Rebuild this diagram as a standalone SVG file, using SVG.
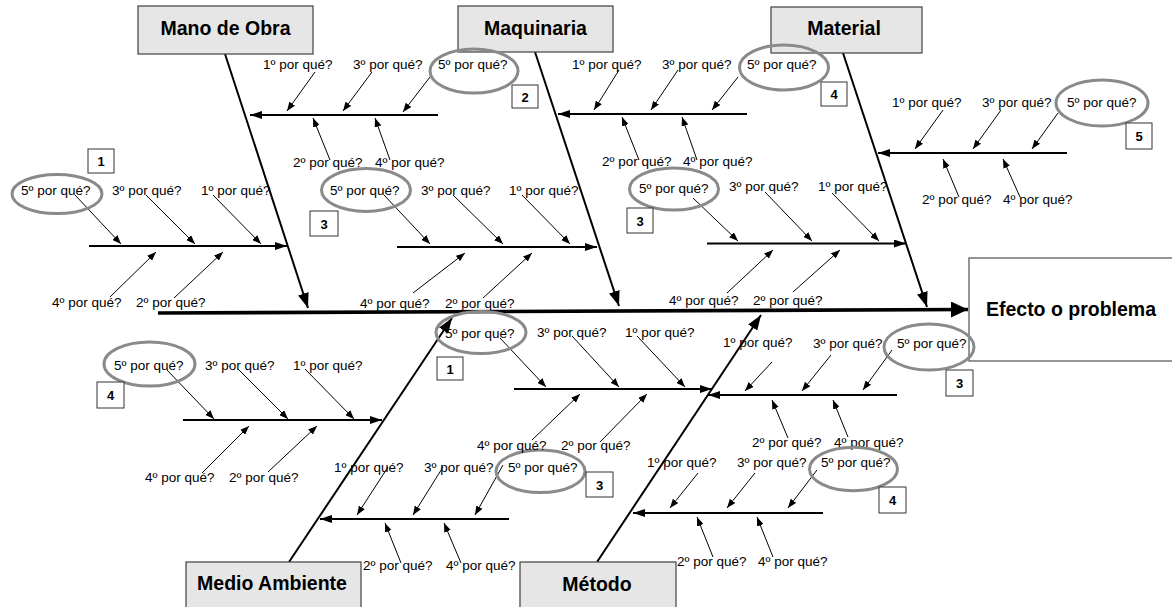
<svg xmlns="http://www.w3.org/2000/svg" width="1172" height="607" viewBox="0 0 1172 607">
  <defs>
    <style>
      .cat rect { fill: #e6e6e6; stroke: #404040; stroke-width: 1.2; }
      .cat text, .effect text { font-family: "Liberation Sans", Arial, sans-serif; font-weight: bold; font-size: 19.5px; fill: #000; text-anchor: middle; }
      .effect rect { fill: #fff; stroke: #505050; stroke-width: 1.2; }
      .why text { font-family: "Liberation Sans", Arial, sans-serif; font-size: 13.5px; fill: #000; }
      .why ellipse { fill: none; stroke: #8a8a8a; stroke-width: 3; }
      .why rect { fill: #fff; stroke: #333; stroke-width: 1; }
      .why text.num { font-weight: bold; font-size: 13px; text-anchor: middle; }
      .spine { stroke: #000; stroke-width: 3.6; fill: none; }
      .bone { stroke: #000; stroke-width: 2; fill: none; }
      .sub { stroke: #000; stroke-width: 2; fill: none; }
      .tick { stroke: #000; stroke-width: 1; fill: none; }
    </style>
    <marker id="ah-xl" markerUnits="userSpaceOnUse" markerWidth="18" markerHeight="16" refX="17" refY="8" orient="auto">
      <path d="M0,0 L17,8 L0,16 z" fill="#000"/>
    </marker>
    <marker id="ah-lg" markerUnits="userSpaceOnUse" markerWidth="15" markerHeight="11" refX="15" refY="5.5" orient="auto">
      <path d="M0,0 L15,5.5 L0,11 z" fill="#000"/>
    </marker>
    <marker id="ah-md" markerUnits="userSpaceOnUse" markerWidth="12" markerHeight="8" refX="12" refY="4" orient="auto">
      <path d="M0,0 L12,4 L0,8 z" fill="#000"/>
    </marker>
    <marker id="ah-sm" markerUnits="userSpaceOnUse" markerWidth="9" markerHeight="7" refX="9" refY="3.5" orient="auto">
      <path d="M0,0 L9,3.5 L0,7 z" fill="#000"/>
    </marker>
  </defs>

  <rect width="1172" height="607" fill="#fff"/>

  <!-- connectors: spine, main bones, sub-bones and the small why-arrows -->
  <g id="connectors">
    <line class="spine" x1="158" y1="313" x2="968" y2="309.5" marker-end="url(#ah-xl)"/>

    <line class="bone" x1="225" y1="54" x2="308" y2="308" marker-end="url(#ah-lg)"/>
    <line class="bone" x1="535" y1="52" x2="619" y2="306" marker-end="url(#ah-lg)"/>
    <line class="bone" x1="843" y1="53" x2="927" y2="307" marker-end="url(#ah-lg)"/>
    <line class="bone" x1="289" y1="562" x2="452" y2="318" marker-end="url(#ah-lg)"/>
    <line class="bone" x1="597" y1="562" x2="761" y2="315" marker-end="url(#ah-lg)"/>

    <line class="sub" x1="89" y1="246" x2="287" y2="246" marker-end="url(#ah-md)"/>
    <line class="sub" x1="438" y1="115" x2="250" y2="115" marker-end="url(#ah-md)"/>
    <line class="sub" x1="397" y1="247" x2="597" y2="247" marker-end="url(#ah-md)"/>
    <line class="sub" x1="747" y1="114" x2="558" y2="114" marker-end="url(#ah-md)"/>
    <line class="sub" x1="707" y1="243.5" x2="906" y2="243.5" marker-end="url(#ah-md)"/>
    <line class="sub" x1="1067" y1="153" x2="878" y2="153" marker-end="url(#ah-md)"/>
    <line class="sub" x1="183" y1="420" x2="382" y2="420" marker-end="url(#ah-md)"/>
    <line class="sub" x1="509" y1="519" x2="320" y2="519" marker-end="url(#ah-md)"/>
    <line class="sub" x1="514" y1="389" x2="712" y2="389" marker-end="url(#ah-md)"/>
    <line class="sub" x1="897" y1="395" x2="708" y2="395" marker-end="url(#ah-md)"/>
    <line class="sub" x1="823" y1="513" x2="633" y2="513" marker-end="url(#ah-md)"/>

    <g marker-end="url(#ah-sm)">
      <line class="tick" x1="75" y1="195" x2="121" y2="244"/>
      <line class="tick" x1="146" y1="195" x2="195" y2="244"/>
      <line class="tick" x1="213" y1="195" x2="261" y2="244"/>
      <line class="tick" x1="110" y1="297" x2="156" y2="252"/>
      <line class="tick" x1="174" y1="298" x2="223" y2="252"/>

      <line class="tick" x1="315" y1="72" x2="287" y2="111"/>
      <line class="tick" x1="372" y1="72" x2="343" y2="111"/>
      <line class="tick" x1="430" y1="77" x2="403" y2="112"/>
      <line class="tick" x1="330" y1="160" x2="313" y2="118"/>
      <line class="tick" x1="390" y1="160" x2="375" y2="118"/>

      <line class="tick" x1="384" y1="195" x2="430" y2="244"/>
      <line class="tick" x1="453" y1="195" x2="503" y2="244"/>
      <line class="tick" x1="522" y1="195" x2="570" y2="244"/>
      <line class="tick" x1="413" y1="293" x2="465" y2="253"/>
      <line class="tick" x1="483" y1="298" x2="532" y2="253"/>

      <line class="tick" x1="619" y1="70" x2="594" y2="110"/>
      <line class="tick" x1="678" y1="70" x2="651" y2="110"/>
      <line class="tick" x1="738" y1="77" x2="712" y2="110"/>
      <line class="tick" x1="639" y1="160" x2="622" y2="117"/>
      <line class="tick" x1="697" y1="160" x2="682" y2="117"/>

      <line class="tick" x1="693" y1="198" x2="738" y2="241"/>
      <line class="tick" x1="765" y1="192" x2="812" y2="241"/>
      <line class="tick" x1="832" y1="193" x2="879" y2="241"/>
      <line class="tick" x1="727" y1="293" x2="773" y2="250"/>
      <line class="tick" x1="793" y1="292" x2="840" y2="250"/>

      <line class="tick" x1="943" y1="110" x2="915" y2="149"/>
      <line class="tick" x1="1001" y1="110" x2="973" y2="149"/>
      <line class="tick" x1="1058" y1="113" x2="1032" y2="149"/>
      <line class="tick" x1="959" y1="197" x2="943" y2="159"/>
      <line class="tick" x1="1020" y1="197" x2="1003" y2="159"/>

      <line class="tick" x1="167" y1="370" x2="214" y2="419"/>
      <line class="tick" x1="238" y1="369" x2="288" y2="419"/>
      <line class="tick" x1="305" y1="369" x2="354" y2="419"/>
      <line class="tick" x1="202" y1="473" x2="249" y2="426"/>
      <line class="tick" x1="268" y1="472" x2="317" y2="426"/>

      <line class="tick" x1="388" y1="467" x2="357" y2="515"/>
      <line class="tick" x1="443" y1="467" x2="413" y2="515"/>
      <line class="tick" x1="503" y1="465" x2="475" y2="515"/>
      <line class="tick" x1="401" y1="563" x2="385" y2="523"/>
      <line class="tick" x1="461" y1="563" x2="444" y2="523"/>

      <line class="tick" x1="500" y1="338" x2="546" y2="387"/>
      <line class="tick" x1="572" y1="336" x2="619" y2="387"/>
      <line class="tick" x1="637" y1="336" x2="685" y2="387"/>
      <line class="tick" x1="532" y1="440" x2="580" y2="394"/>
      <line class="tick" x1="600" y1="442" x2="647" y2="394"/>

      <line class="tick" x1="772" y1="362" x2="745" y2="391"/>
      <line class="tick" x1="831" y1="355" x2="802" y2="391"/>
      <line class="tick" x1="892" y1="350" x2="863" y2="390"/>
      <line class="tick" x1="788" y1="438" x2="772" y2="400"/>
      <line class="tick" x1="848" y1="437" x2="833" y2="400"/>

      <line class="tick" x1="698" y1="473" x2="670" y2="508"/>
      <line class="tick" x1="755" y1="473" x2="727" y2="508"/>
      <line class="tick" x1="817" y1="470" x2="788" y2="508"/>
      <line class="tick" x1="713" y1="557" x2="697" y2="517"/>
      <line class="tick" x1="773" y1="557" x2="757" y2="517"/>
    </g>
  </g>

  <!-- effect -->
  <g id="efecto" class="effect">
    <rect x="969" y="258" width="215" height="103"/>
    <text x="1071" y="316">Efecto o problema</text>
  </g>

  <!-- categories -->
  <g id="mano-de-obra" class="cat">
    <rect x="138" y="6" width="175" height="48"/>
    <text x="225.5" y="35">Mano de Obra</text>
  </g>
  <g id="maquinaria" class="cat">
    <rect x="458" y="6" width="155" height="46"/>
    <text x="535.5" y="35">Maquinaria</text>
  </g>
  <g id="material" class="cat">
    <rect x="771" y="7" width="151" height="46"/>
    <text x="844" y="35">Material</text>
  </g>
  <g id="medio-ambiente" class="cat">
    <rect x="186" y="562" width="175" height="50"/>
    <text x="272" y="590">Medio Ambiente</text>
  </g>
  <g id="metodo" class="cat">
    <rect x="520" y="562" width="156" height="50"/>
    <text x="597" y="591">Método</text>
  </g>

  <!-- why chains -->
  <g id="why-mo-1" class="why">
    <ellipse cx="57" cy="194" rx="45" ry="19.5"/>
    <text x="21" y="195">5º por qué?</text>
    <text x="112" y="195">3º por qué?</text>
    <text x="201" y="195">1º por qué?</text>
    <text x="52" y="307">4º por qué?</text>
    <text x="136" y="307">2º por qué?</text>
    <rect x="88" y="149" width="26" height="24"/>
    <text class="num" x="101" y="166">1</text>
  </g>
  <g id="why-mo-2" class="why">
    <ellipse cx="474" cy="71" rx="44" ry="22"/>
    <text x="263" y="69">1º por qué?</text>
    <text x="353" y="69">3º por qué?</text>
    <text x="438" y="69">5º por qué?</text>
    <text x="293" y="167">2º por qué?</text>
    <text x="375" y="167">4º por qué?</text>
    <rect x="512" y="85" width="26" height="23"/>
    <text class="num" x="525" y="101.5">2</text>
  </g>
  <g id="why-mq-1" class="why">
    <ellipse cx="366" cy="190" rx="44.5" ry="21.5"/>
    <text x="330" y="195">5º por qué?</text>
    <text x="421" y="195">3º por qué?</text>
    <text x="509" y="195">1º por qué?</text>
    <text x="360" y="308">4º por qué?</text>
    <text x="445" y="308">2º por qué?</text>
    <rect x="310" y="211" width="28" height="25"/>
    <text class="num" x="324" y="228.5">3</text>
  </g>
  <g id="why-mq-2" class="why">
    <ellipse cx="784" cy="67.5" rx="44.5" ry="22.5"/>
    <text x="572" y="69">1º por qué?</text>
    <text x="662" y="69">3º por qué?</text>
    <text x="747" y="69">5º por qué?</text>
    <text x="602" y="166">2º por qué?</text>
    <text x="683" y="166">4º por qué?</text>
    <rect x="821" y="82" width="26" height="24"/>
    <text class="num" x="834" y="99">4</text>
  </g>
  <g id="why-mt-1" class="why">
    <ellipse cx="674" cy="189" rx="44.5" ry="21"/>
    <text x="639" y="193">5º por qué?</text>
    <text x="729" y="191">3º por qué?</text>
    <text x="818" y="191">1º por qué?</text>
    <text x="669" y="305">4º por qué?</text>
    <text x="753" y="305">2º por qué?</text>
    <rect x="627" y="208" width="26" height="25"/>
    <text class="num" x="640" y="225.5">3</text>
  </g>
  <g id="why-mt-2" class="why">
    <ellipse cx="1102" cy="103" rx="46" ry="23"/>
    <text x="892" y="107">1º por qué?</text>
    <text x="982" y="107">3º por qué?</text>
    <text x="1067" y="107">5º por qué?</text>
    <text x="922" y="204">2º por qué?</text>
    <text x="1003" y="204">4º por qué?</text>
    <rect x="1126" y="123" width="26" height="26"/>
    <text class="num" x="1139" y="141">5</text>
  </g>
  <g id="why-ma-1" class="why">
    <ellipse cx="149.5" cy="364" rx="45.5" ry="22"/>
    <text x="114" y="370">5º por qué?</text>
    <text x="205" y="370">3º por qué?</text>
    <text x="293" y="370">1º por qué?</text>
    <text x="145" y="482">4º por qué?</text>
    <text x="229" y="482">2º por qué?</text>
    <rect x="97" y="382" width="27" height="26"/>
    <text class="num" x="110.5" y="400">4</text>
  </g>
  <g id="why-ma-2" class="why">
    <ellipse cx="540.5" cy="471.3" rx="44.5" ry="21.3"/>
    <text x="334" y="472">1º por qué?</text>
    <text x="424" y="472">3º por qué?</text>
    <text x="508" y="472">5º por qué?</text>
    <text x="363" y="570">2º por qué?</text>
    <text x="446" y="570">4º por qué?</text>
    <rect x="586" y="472" width="27" height="25"/>
    <text class="num" x="599.5" y="489.5">3</text>
  </g>
  <g id="why-me-1" class="why">
    <ellipse cx="481" cy="332.5" rx="45" ry="21"/>
    <text x="445" y="338">5º por qué?</text>
    <text x="537" y="337">3º por qué?</text>
    <text x="625" y="337">1º por qué?</text>
    <text x="477" y="450">4º por qué?</text>
    <text x="561" y="450">2º por qué?</text>
    <rect x="437" y="357" width="26" height="23"/>
    <text class="num" x="450" y="373.5">1</text>
  </g>
  <g id="why-me-2" class="why">
    <ellipse cx="929" cy="347" rx="45" ry="23"/>
    <text x="723" y="347">1º por qué?</text>
    <text x="813" y="348">3º por qué?</text>
    <text x="897" y="348">5º por qué?</text>
    <text x="752" y="447">2º por qué?</text>
    <text x="834" y="447">4º por qué?</text>
    <rect x="946" y="370" width="27" height="26"/>
    <text class="num" x="959.5" y="388">3</text>
  </g>
  <g id="why-me-3" class="why">
    <ellipse cx="853.5" cy="469" rx="44" ry="21.7"/>
    <text x="647" y="467">1º por qué?</text>
    <text x="737" y="467">3º por qué?</text>
    <text x="821" y="467">5º por qué?</text>
    <text x="677" y="566">2º por qué?</text>
    <text x="758" y="566">4º por qué?</text>
    <rect x="879" y="487" width="27" height="26"/>
    <text class="num" x="892.5" y="505">4</text>
  </g>
</svg>
